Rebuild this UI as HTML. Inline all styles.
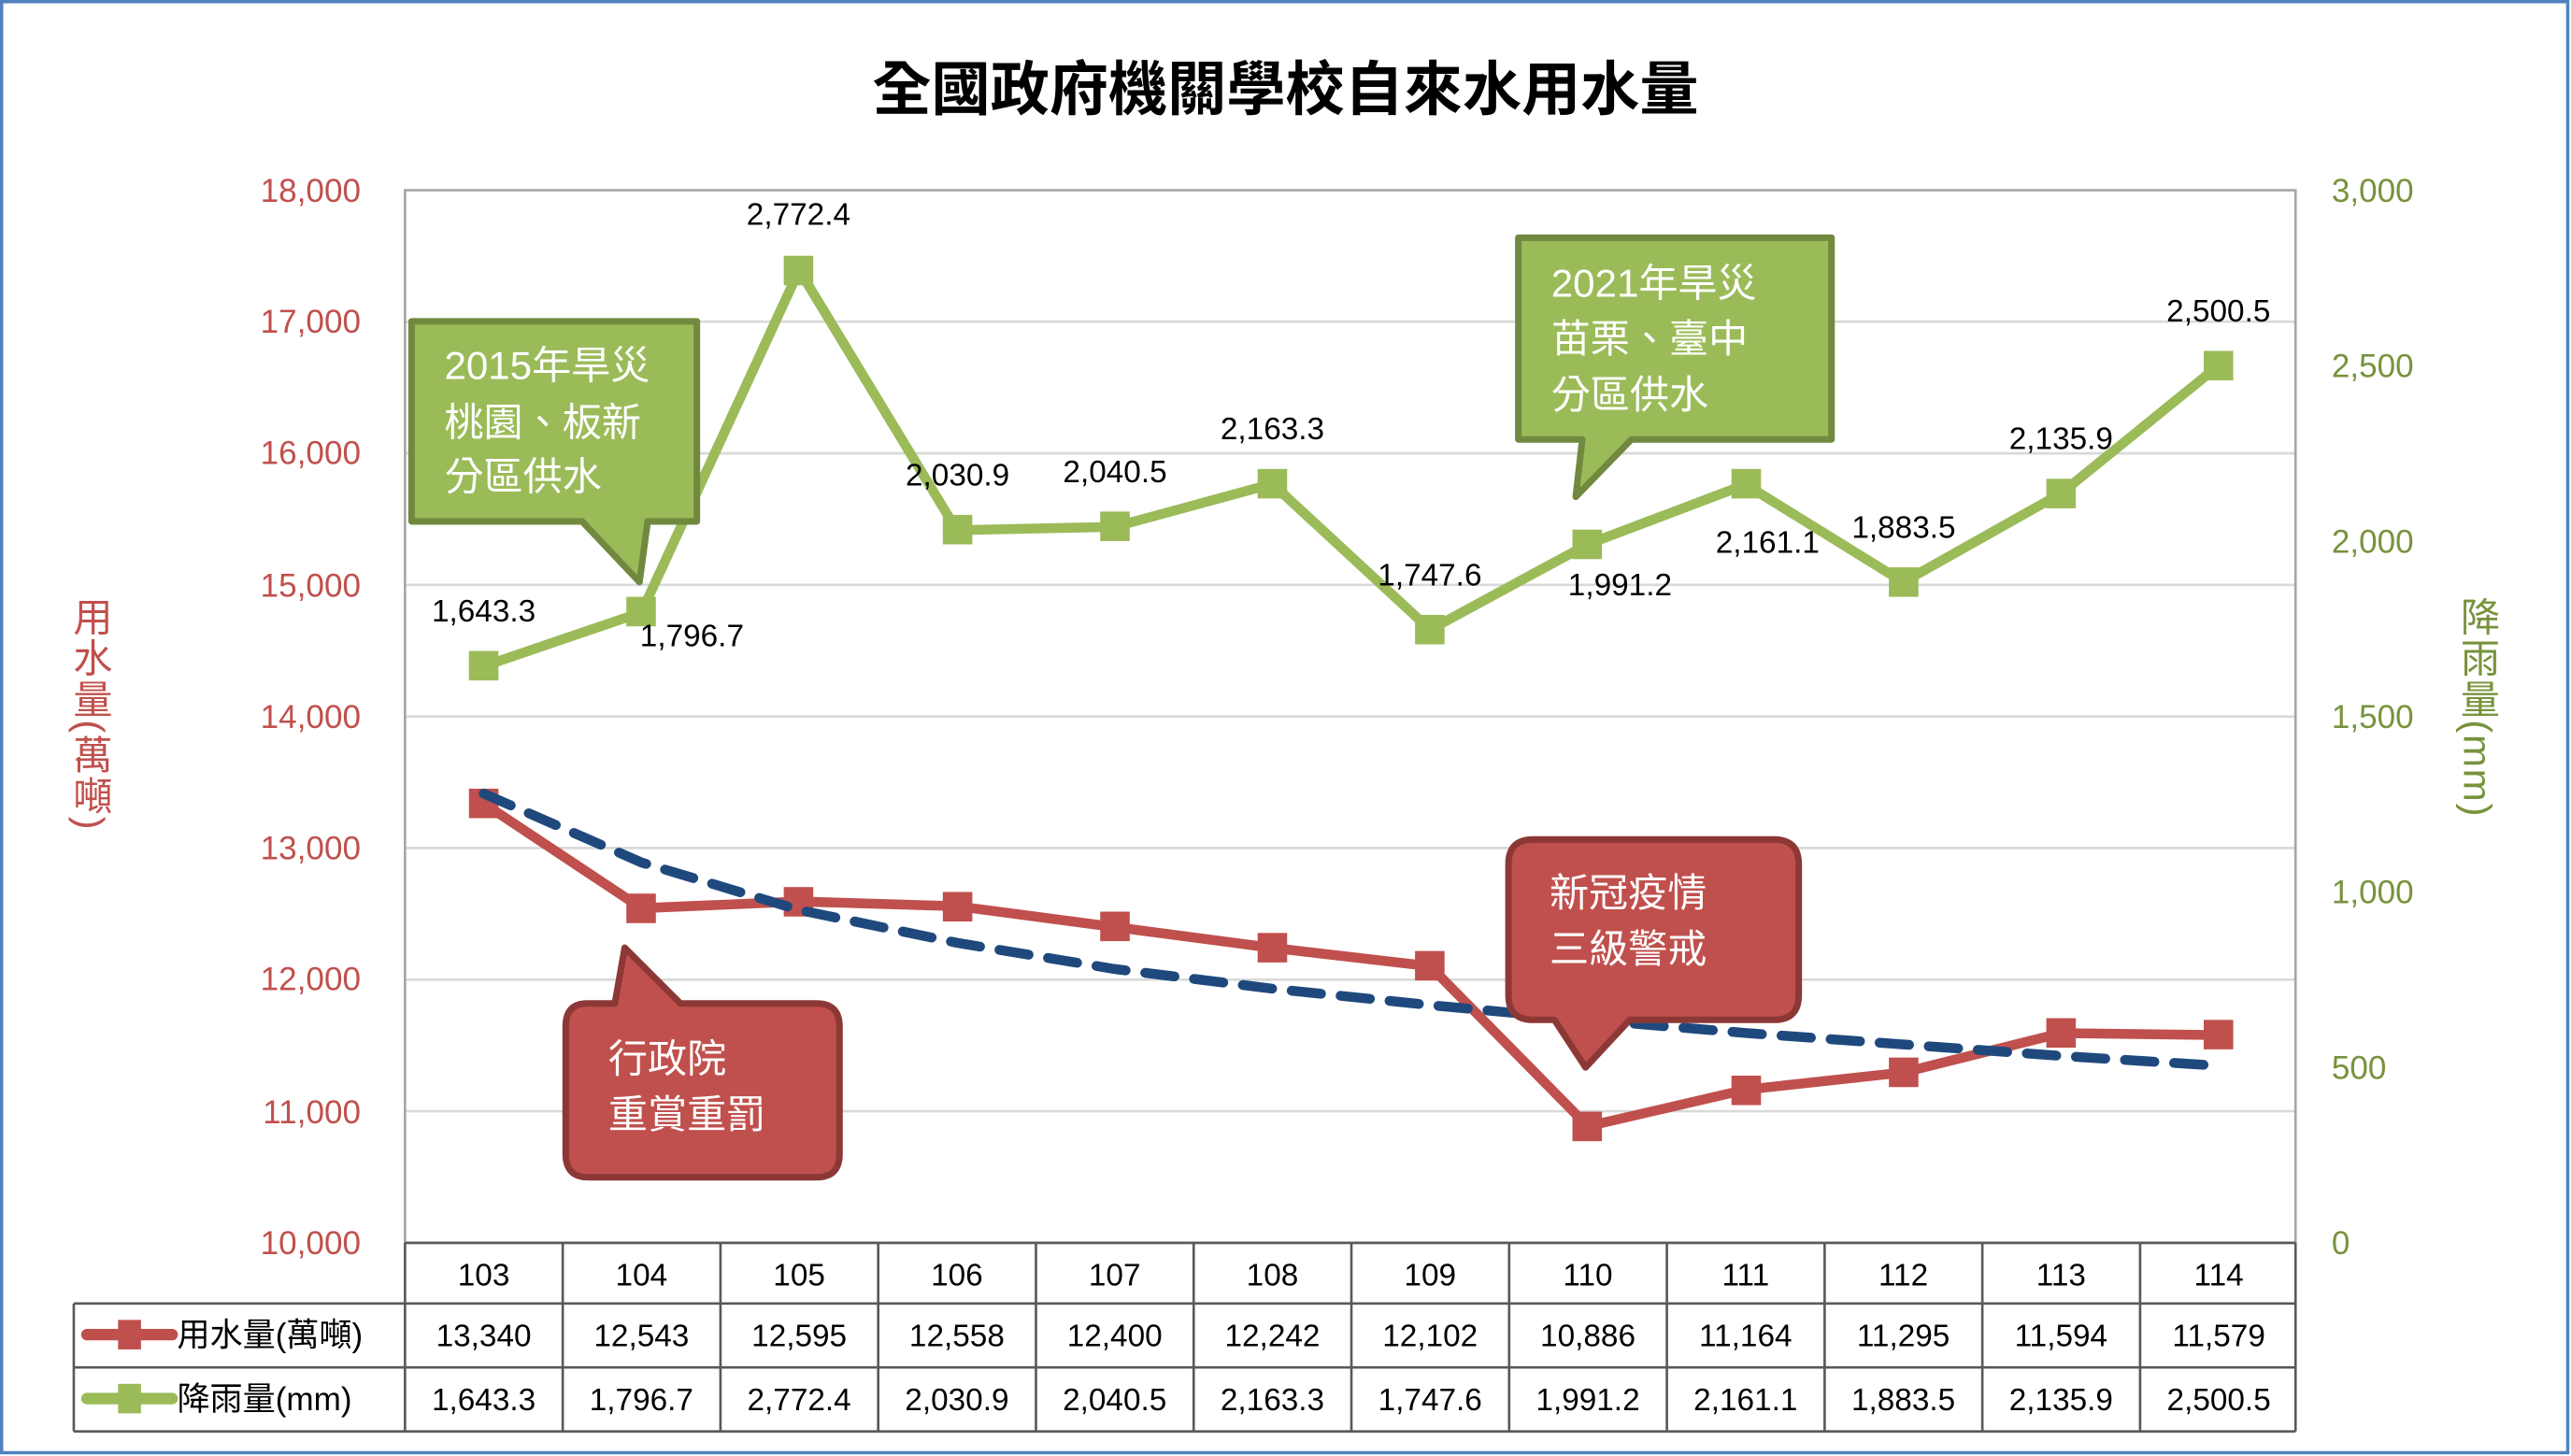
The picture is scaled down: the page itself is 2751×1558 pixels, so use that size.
<!DOCTYPE html>
<html><head><meta charset="utf-8"><style>
html,body{margin:0;padding:0;background:#fff}
svg{display:block}
text{font-family:"Liberation Sans","Noto Sans CJK TC",sans-serif}
</style></head><body>
<svg width="2751" height="1558" viewBox="0 0 1568 888" xmlns="http://www.w3.org/2000/svg">
<rect x="1" y="1" width="1565" height="885" fill="#fff" stroke="#4f81bd" stroke-width="2"/>
<text x="784" y="67" font-size="36" font-weight="bold" text-anchor="middle" fill="#000">全國政府機關學校自來水用水量</text>
<g stroke="#d9d9d9" stroke-width="1.5">
<line x1="247" x2="1400" y1="196.2" y2="196.2"/><line x1="247" x2="1400" y1="276.5" y2="276.5"/>
<line x1="247" x2="1400" y1="356.7" y2="356.7"/><line x1="247" x2="1400" y1="437" y2="437"/>
<line x1="247" x2="1400" y1="517.2" y2="517.2"/><line x1="247" x2="1400" y1="597.5" y2="597.5"/>
<line x1="247" x2="1400" y1="677.7" y2="677.7"/>
</g>
<rect x="247" y="116" width="1153" height="642" fill="none" stroke="#a6a6a6" stroke-width="1.5"/>
<g fill="#c0504d" font-size="20" text-anchor="end">
<text x="220" y="123">18,000</text><text x="220" y="203">17,000</text><text x="220" y="283">16,000</text>
<text x="220" y="364">15,000</text><text x="220" y="444">14,000</text><text x="220" y="524">13,000</text>
<text x="220" y="604">12,000</text><text x="220" y="685">11,000</text><text x="220" y="765">10,000</text>
</g>
<g fill="#77933c" font-size="20" text-anchor="start">
<text x="1422" y="123">3,000</text><text x="1422" y="230">2,500</text><text x="1422" y="337">2,000</text>
<text x="1422" y="444">1,500</text><text x="1422" y="551">1,000</text><text x="1422" y="658">500</text>
<text x="1422" y="765">0</text>
</g>
<text x="55" y="364" font-size="24" letter-spacing="1" fill="#c0504d" style="writing-mode:vertical-rl" text-anchor="start">用水量(萬噸)</text>
<text x="1511" y="364" font-size="24" letter-spacing="1" fill="#77933c" style="writing-mode:vertical-rl" text-anchor="start">降雨量(mm)</text>
<polyline fill="none" stroke="#9bbb59" stroke-width="6" stroke-linejoin="round" points="295,406.3 391.2,373.5 487.4,164.7 583.6,323.4 679.8,321.3 776,295.1 872.2,384 968.4,331.9 1064.6,295.5 1160.8,355 1257,300.9 1353.2,222.9"/>
<g fill="#9bbb59">
<rect x="286" y="397" width="18" height="18"/><rect x="382" y="364" width="18" height="18"/><rect x="478" y="156" width="18" height="18"/>
<rect x="575" y="314" width="18" height="18"/><rect x="671" y="312" width="18" height="18"/><rect x="767" y="286" width="18" height="18"/>
<rect x="863" y="375" width="18" height="18"/><rect x="959" y="323" width="18" height="18"/><rect x="1056" y="286" width="18" height="18"/>
<rect x="1152" y="346" width="18" height="18"/><rect x="1248" y="292" width="18" height="18"/><rect x="1344" y="214" width="18" height="18"/>
</g>
<polyline fill="none" stroke="#c0504d" stroke-width="6" stroke-linejoin="round" points="295,490 391.2,553.9 487.4,549.8 583.6,552.7 679.8,565.4 776,578.1 872.2,589.3 968.4,686.9 1064.6,664.6 1160.8,654.1 1257,630.1 1353.2,631.3"/>
<g fill="#c0504d">
<rect x="286" y="481" width="18" height="18"/><rect x="382" y="545" width="18" height="18"/><rect x="478" y="541" width="18" height="18"/>
<rect x="575" y="544" width="18" height="18"/><rect x="671" y="556" width="18" height="18"/><rect x="767" y="569" width="18" height="18"/>
<rect x="863" y="580" width="18" height="18"/><rect x="959" y="678" width="18" height="18"/><rect x="1056" y="656" width="18" height="18"/>
<rect x="1152" y="645" width="18" height="18"/><rect x="1248" y="621" width="18" height="18"/><rect x="1344" y="622" width="18" height="18"/>
</g>
<polyline fill="none" stroke="#1f497d" stroke-width="6" stroke-linecap="round" stroke-dasharray="18,12" points="295,484 391.2,526 487.4,555 583.6,575 679.8,591 776,603 872.2,613 968.4,622 1064.6,630 1160.8,637 1257,644 1353.2,650"/>
<g font-size="19" fill="#000" text-anchor="middle">
<text x="295" y="379">1,643.3</text><text x="422" y="394">1,796.7</text><text x="487" y="137">2,772.4</text>
<text x="584" y="296">2,030.9</text><text x="680" y="294">2,040.5</text><text x="776" y="268">2,163.3</text>
<text x="872" y="357">1,747.6</text><text x="988" y="363">1,991.2</text><text x="1078" y="337">2,161.1</text>
<text x="1161" y="328">1,883.5</text><text x="1257" y="274">2,135.9</text><text x="1353" y="196">2,500.5</text>
</g>
<path d="M251,196 H425 V318 H395 L390,355 L355,318 H251 Z" fill="#9bbb59" stroke="#71893f" stroke-width="4" stroke-linejoin="round"/>
<g fill="#fff" font-size="24"><text x="271" y="231">2015年旱災</text><text x="271" y="266">桃園、板新</text><text x="271" y="299">分區供水</text></g>
<path d="M926,145 H1117 V268 H995 L961,303 L965,268 H926 Z" fill="#9bbb59" stroke="#71893f" stroke-width="4" stroke-linejoin="round"/>
<g fill="#fff" font-size="24"><text x="946" y="181">2021年旱災</text><text x="946" y="215">苗栗、臺中</text><text x="946" y="249">分區供水</text></g>
<path d="M358,612 H375 L381,578 L415,612 H498 Q512,612 512,626 V704 Q512,718 498,718 H359 Q345,718 345,704 V626 Q345,612 358,612 Z" fill="#c0504d" stroke="#8c3836" stroke-width="4" stroke-linejoin="round"/>
<g fill="#fff" font-size="24"><text x="371" y="654">行政院</text><text x="371" y="688">重賞重罰</text></g>
<path d="M935,512 H1082 Q1097,512 1097,527 V607 Q1097,622 1082,622 H994 L967,651 L948,622 H935 Q920,622 920,607 V527 Q920,512 935,512 Z" fill="#c0504d" stroke="#8c3836" stroke-width="4" stroke-linejoin="round"/>
<g fill="#fff" font-size="24"><text x="945" y="553">新冠疫情</text><text x="945" y="587">三級警戒</text></g>
<g stroke="#595959" stroke-width="1.5" fill="none">
<line x1="247" x2="1400" y1="758" y2="758"/>
<line x1="45" x2="1400" y1="795" y2="795"/>
<line x1="45" x2="1400" y1="834" y2="834"/>
<line x1="45" x2="1400" y1="873" y2="873"/>
<line x1="45" x2="45" y1="795" y2="873"/>
<line x1="247" x2="247" y1="758" y2="873"/><line x1="343.2" x2="343.2" y1="758" y2="873"/><line x1="439.4" x2="439.4" y1="758" y2="873"/>
<line x1="535.6" x2="535.6" y1="758" y2="873"/><line x1="631.8" x2="631.8" y1="758" y2="873"/><line x1="728" x2="728" y1="758" y2="873"/>
<line x1="824.2" x2="824.2" y1="758" y2="873"/><line x1="920.4" x2="920.4" y1="758" y2="873"/><line x1="1016.6" x2="1016.6" y1="758" y2="873"/>
<line x1="1112.8" x2="1112.8" y1="758" y2="873"/><line x1="1209" x2="1209" y1="758" y2="873"/><line x1="1305.2" x2="1305.2" y1="758" y2="873"/>
<line x1="1400" x2="1400" y1="758" y2="873"/>
</g>
<line x1="53" x2="105" y1="814" y2="814" stroke="#c0504d" stroke-width="7" stroke-linecap="round"/>
<rect x="72" y="805" width="14" height="18" fill="#c0504d"/>
<line x1="53" x2="105" y1="853" y2="853" stroke="#9bbb59" stroke-width="7" stroke-linecap="round"/>
<rect x="72" y="844" width="14" height="18" fill="#9bbb59"/>
<g font-size="20" fill="#000">
<text x="108" y="821">用水量(萬噸)</text><text x="108" y="860">降雨量(mm)</text>
</g>
<g font-size="19" fill="#000" text-anchor="middle">
<text x="295" y="784">103</text><text x="391.2" y="784">104</text><text x="487.4" y="784">105</text><text x="583.6" y="784">106</text>
<text x="679.8" y="784">107</text><text x="776" y="784">108</text><text x="872.2" y="784">109</text><text x="968.4" y="784">110</text>
<text x="1064.6" y="784">111</text><text x="1160.8" y="784">112</text><text x="1257" y="784">113</text><text x="1353.2" y="784">114</text>
<text x="295" y="821">13,340</text><text x="391.2" y="821">12,543</text><text x="487.4" y="821">12,595</text><text x="583.6" y="821">12,558</text>
<text x="679.8" y="821">12,400</text><text x="776" y="821">12,242</text><text x="872.2" y="821">12,102</text><text x="968.4" y="821">10,886</text>
<text x="1064.6" y="821">11,164</text><text x="1160.8" y="821">11,295</text><text x="1257" y="821">11,594</text><text x="1353.2" y="821">11,579</text>
<text x="295" y="860">1,643.3</text><text x="391.2" y="860">1,796.7</text><text x="487.4" y="860">2,772.4</text><text x="583.6" y="860">2,030.9</text>
<text x="679.8" y="860">2,040.5</text><text x="776" y="860">2,163.3</text><text x="872.2" y="860">1,747.6</text><text x="968.4" y="860">1,991.2</text>
<text x="1064.6" y="860">2,161.1</text><text x="1160.8" y="860">1,883.5</text><text x="1257" y="860">2,135.9</text><text x="1353.2" y="860">2,500.5</text>
</g>
</svg>
</body></html>
